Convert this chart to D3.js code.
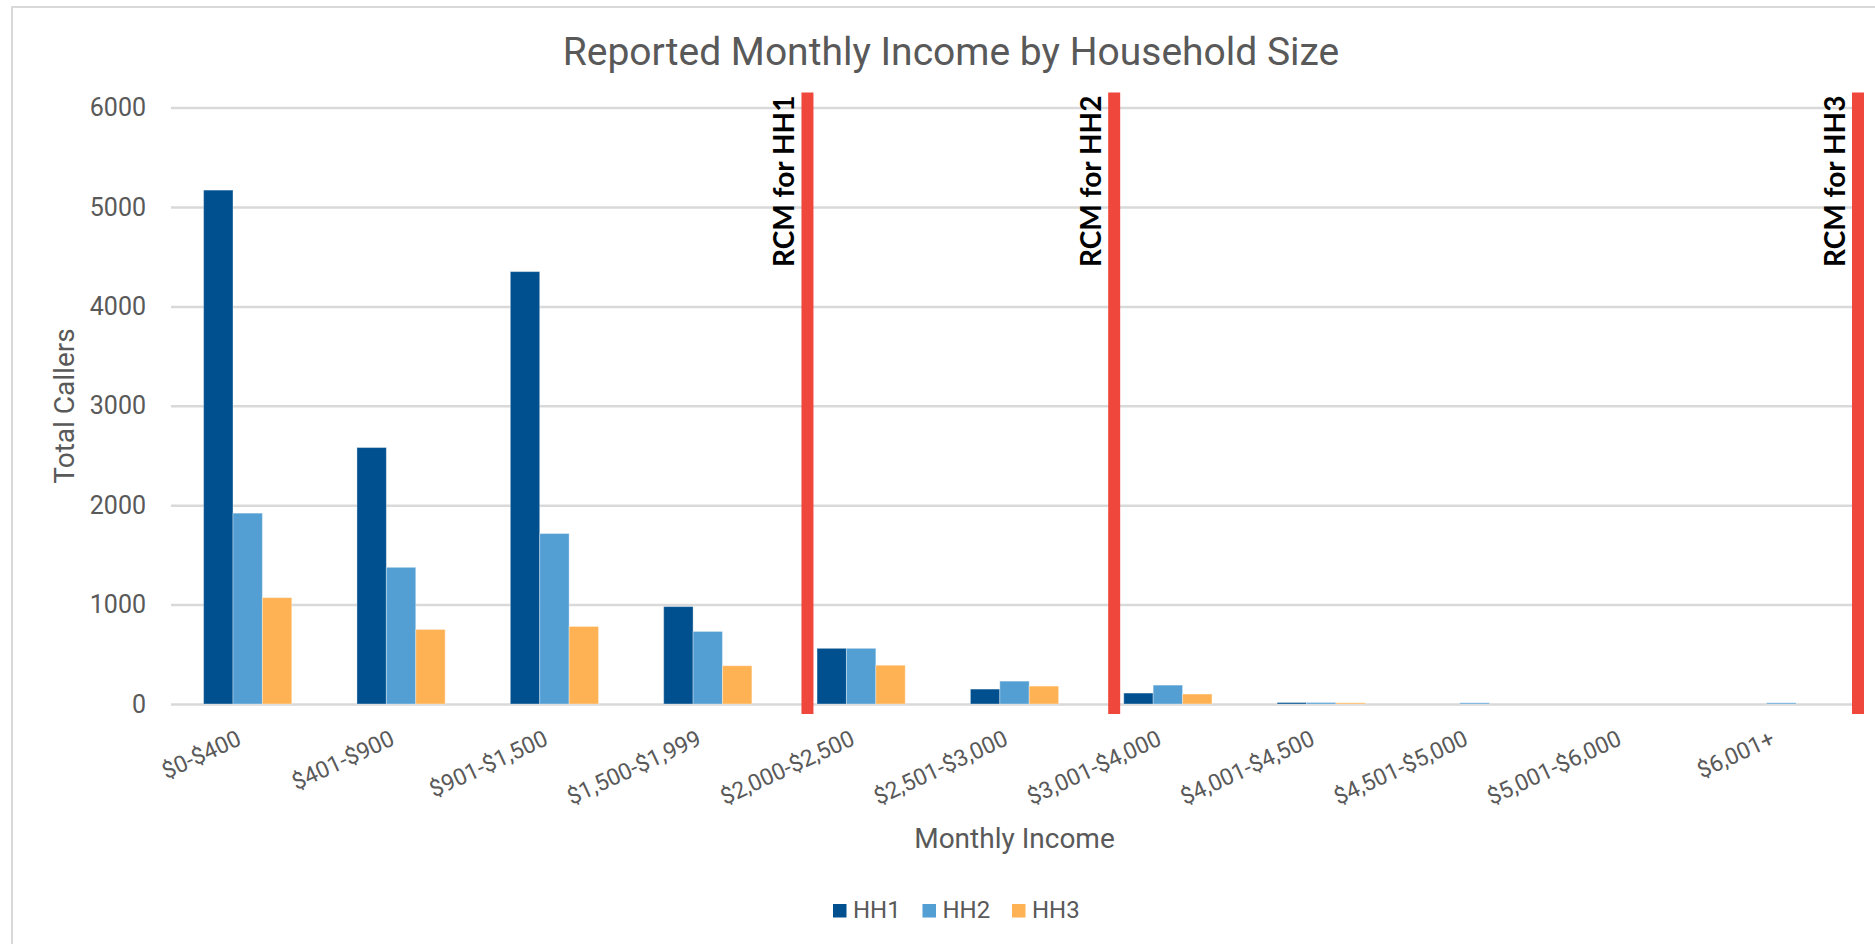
<!DOCTYPE html>
<html>
<head>
<meta charset="utf-8">
<script src="https://cdn.jsdelivr.net/npm/d3@7"></script>
<style>
  body { margin: 0; background: #fff; }
  svg { display: block; font-family: Roboto, "Open Sans", sans-serif; }
</style>
</head>
<body>
<div id="chart"></div>
<script>
// data
const categories = ["$0-$400", "$401-$900", "$901-$1,500", "$1,500-$1,999", "$2,000-$2,500",
  "$2,501-$3,000", "$3,001-$4,000", "$4,001-$4,500", "$4,501-$5,000", "$5,001-$6,000", "$6,001+"];
const seriesNames = ["HH1", "HH2", "HH3"];
const hh1 = [5170, 2580, 4350, 980, 560, 150, 110, 15, 0, 0, 0];
const hh2 = [1920, 1375, 1715, 730, 560, 230, 190, 15, 12, 0, 12];
const hh3 = [1070, 750, 780, 385, 390, 180, 100, 12, 0, 0, 0];
const yTicks = [0, 1000, 2000, 3000, 4000, 5000, 6000];
// RCM markers, positioned in category units (0 = left edge of first category)
const rcmLabels = ["RCM for HH1", "RCM for HH2", "RCM for HH3"];
const rcmAt = [4.15, 6.15, 11];

const colors = ["#00508F", "#539FD3", "#FFB253"];
const W = 1875, H = 944;
const margin = { top: 107.6, right: 17, bottom: 240, left: 171 };
const width = W - margin.left - margin.right,
  height = H - margin.top - margin.bottom;

const svg = d3.select("#chart").append("svg")
  .attr("width", W)
  .attr("height", H);

// chart border (only top/left show in the frame)
svg.append("path")
  .attr("d", "M12,960 L12,7 L1890,7")
  .attr("fill", "none")
  .attr("stroke", "#D9D9D9")
  .attr("stroke-width", 2);

svg.append("text")
  .attr("x", 951)
  .attr("y", 65)
  .attr("text-anchor", "middle")
  .style("font-size", "39px")
  .style("fill", "#595959")
  .text("Reported Monthly Income by Household Size");

const g = svg.append("g")
  .attr("transform", "translate(" + margin.left + "," + margin.top + ")");

const x0 = d3.scaleBand()
  .domain(categories)
  .range([0, width])
  .paddingInner(0.425)
  .paddingOuter(0.2125);

const x1 = d3.scaleBand()
  .domain(seriesNames)
  .range([0, x0.bandwidth()]);

const xPos = d3.scaleLinear()
  .domain([0, categories.length])
  .range([0, width]);

const y = d3.scaleLinear()
  .domain([0, 6000])
  .range([height, 0]);

// y axis + gridlines
const yAxis = g.append("g")
  .call(d3.axisLeft(y).tickValues(yTicks).tickFormat(d3.format("d")).tickSize(-width).tickPadding(25));
yAxis.select(".domain").remove();
yAxis.selectAll(".tick line")
  .attr("stroke", "#D9D9D9")
  .attr("stroke-width", 2.5);
yAxis.selectAll(".tick text")
  .style("font-size", "25px")
  .style("fill", "#595959")
  .style("font-family", "Roboto");

// bars
const rows = categories.map((c, i) => ({ cat: c, vals: [hh1[i], hh2[i], hh3[i]] }));

const groups = g.selectAll("g.group")
  .data(rows)
  .enter().append("g")
  .attr("class", "group")
  .attr("transform", d => "translate(" + x0(d.cat) + ",0)");

groups.selectAll("rect")
  .data(d => d.vals.map((v, k) => ({ key: seriesNames[k], v: v, k: k })))
  .enter().append("rect")
  .attr("x", d => x1(d.key))
  .attr("y", d => y(d.v))
  .attr("width", x1.bandwidth())
  .attr("height", d => height - y(d.v))
  .attr("fill", d => colors[d.k])
  .attr("stroke", "#fff")
  .attr("stroke-opacity", 0.35)
  .attr("stroke-width", 1);

// x axis labels, tilted
const xAxis = g.append("g")
  .attr("transform", "translate(0," + height + ")")
  .call(d3.axisBottom(x0).tickSize(0).tickPadding(0));
xAxis.select(".domain").remove();
xAxis.selectAll(".tick text")
  .attr("text-anchor", "end")
  .attr("dy", 0)
  .attr("y", 0)
  .attr("transform", "translate(-5,40) rotate(-25)")
  .style("font-size", "23px")
  .style("fill", "#595959")
  .style("font-family", "Roboto");

// RCM red lines
const rcm = g.selectAll("g.rcm")
  .data(rcmLabels.map((l, i) => ({ label: l, at: rcmAt[i] })))
  .enter().append("g")
  .attr("class", "rcm")
  .attr("transform", d => "translate(" + xPos(d.at) + ",0)");

rcm.append("line")
  .attr("y1", -15)
  .attr("y2", height + 10)
  .attr("stroke", "#EF473B")
  .attr("stroke-width", 12);

rcm.append("text")
  .attr("transform", "translate(-13,-12) rotate(-90)")
  .attr("text-anchor", "end")
  .style("font-family", "Lato, 'Open Sans', sans-serif")
  .style("font-weight", "bold")
  .style("font-size", "28px")
  .style("fill", "#000")
  .text(d => d.label);

// axis titles
svg.append("text")
  .attr("transform", "translate(74,406) rotate(-90)")
  .attr("text-anchor", "middle")
  .style("font-size", "28px")
  .style("fill", "#595959")
  .text("Total Callers");

svg.append("text")
  .attr("x", margin.left + width / 2)
  .attr("y", 848)
  .attr("text-anchor", "middle")
  .style("font-size", "28px")
  .style("fill", "#595959")
  .text("Monthly Income");

// legend
const legend = svg.append("g")
  .attr("transform", "translate(833,904)");

const item = legend.selectAll("g")
  .data(seriesNames)
  .enter().append("g")
  .attr("transform", (d, i) => "translate(" + i * 89.5 + ",0)");

item.append("rect")
  .attr("width", 13.5)
  .attr("height", 13.5)
  .attr("fill", (d, i) => colors[i]);

item.append("text")
  .attr("x", 20)
  .attr("y", 14)
  .style("font-size", "24px")
  .style("fill", "#595959")
  .text(d => d);
</script>
</body>
</html>
